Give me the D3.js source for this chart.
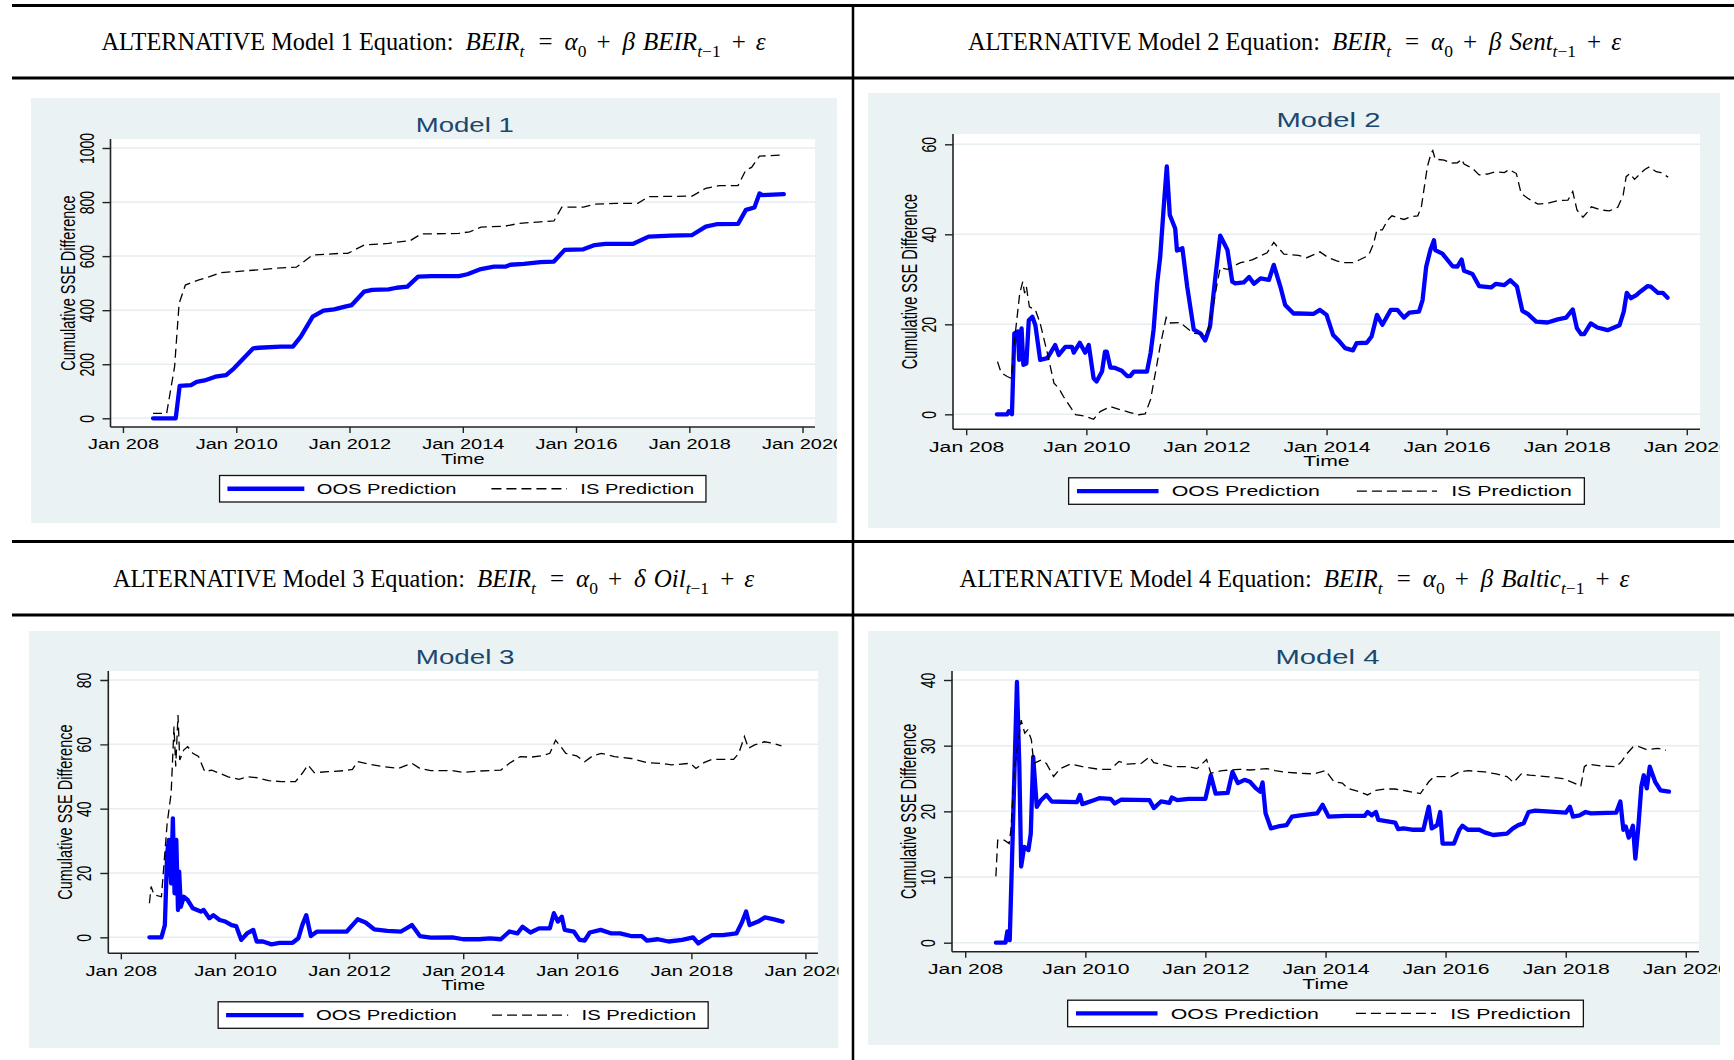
<!DOCTYPE html>
<html>
<head>
<meta charset="utf-8">
<script src="https://cdn.jsdelivr.net/npm/d3@7"></script>
<style>
  html, body { margin: 0; padding: 0; background: #ffffff; }
  svg { display: block; }
  text { white-space: pre; }
</style>
</head>
<body>
<svg id="fig" width="1734" height="1060"></svg>
<script>
// ---------------------------------------------------------------------------
// Data: cumulative SSE difference, [decimal year, value]
// ---------------------------------------------------------------------------
const model1Oos = [[2008.53,0],[2008.93,0],[2009.0,120],[2009.2,123],[2009.3,135],[2009.44,140],[2009.63,154],[2009.82,160],[2009.96,185],[2010.1,216],[2010.3,259],[2010.4,261],[2010.78,265],[2011.0,265],[2011.14,302],[2011.35,376],[2011.54,398],[2011.73,403],[2011.92,413],[2012.04,419],[2012.26,469],[2012.4,475],[2012.69,477],[2012.83,483],[2013.02,487],[2013.21,524],[2013.45,526],[2013.93,526],[2014.08,533],[2014.32,552],[2014.55,561],[2014.75,561],[2014.84,568],[2015.08,571],[2015.37,578],[2015.61,580],[2015.8,623],[2016.13,625],[2016.33,641],[2016.52,645],[2017.0,645],[2017.28,672],[2017.67,676],[2018.05,678],[2018.29,709],[2018.48,718],[2018.86,719],[2019.0,771],[2019.15,780],[2019.24,832],[2019.29,826],[2019.67,829]];
const model1Is = [[2008.53,18],[2008.77,18],[2008.91,191],[2008.99,425],[2009.1,493],[2009.34,512],[2009.53,524],[2009.72,539],[2010.0,543],[2010.49,551],[2010.68,555],[2011.06,559],[2011.35,604],[2011.83,610],[2011.97,610],[2012.26,641],[2012.69,647],[2012.88,653],[2013.07,657],[2013.26,682],[2013.93,684],[2014.12,690],[2014.32,707],[2014.75,711],[2014.99,721],[2015.37,727],[2015.61,730],[2015.75,781],[2016.13,781],[2016.33,792],[2016.71,795],[2017.09,795],[2017.28,820],[2018.05,822],[2018.29,851],[2018.53,861],[2018.86,861],[2019.0,919],[2019.1,928],[2019.24,970],[2019.67,974]];

const model2Oos = [[2008.51,0],[2008.68,0],[2008.71,0.7],[2008.76,0],[2008.8,18],[2008.86,18.4],[2008.88,12.1],[2008.92,19.1],[2008.95,11],[2009.0,11.3],[2009.04,20.9],[2009.1,21.7],[2009.15,19.8],[2009.23,12.1],[2009.35,12.5],[2009.48,15.4],[2009.54,13.2],[2009.65,15],[2009.76,15],[2009.79,13.7],[2009.89,15.9],[2009.98,13.7],[2010.04,15.4],[2010.12,8],[2010.17,7.3],[2010.26,9.5],[2010.31,13.9],[2010.34,13.9],[2010.4,10.4],[2010.48,10.3],[2010.59,9.7],[2010.68,8.5],[2010.73,8.5],[2010.79,9.5],[2011.01,9.5],[2011.07,13.6],[2011.12,18.8],[2011.18,29.1],[2011.23,35],[2011.29,46.2],[2011.34,55.1],[2011.39,44.3],[2011.48,41.3],[2011.51,36.4],[2011.6,36.9],[2011.68,28.4],[2011.79,18.8],[2011.9,18],[2011.98,16.4],[2012.06,19.5],[2012.15,30.6],[2012.23,39.7],[2012.28,38.4],[2012.35,36.5],[2012.43,29.5],[2012.48,29.1],[2012.62,29.3],[2012.71,30.5],[2012.79,29],[2012.9,30.2],[2013.04,29.9],[2013.12,33.2],[2013.23,28.4],[2013.31,24.3],[2013.45,22.4],[2013.53,22.4],[2013.78,22.3],[2013.89,23.2],[2014.0,22.1],[2014.11,17.6],[2014.22,16.1],[2014.31,14.7],[2014.44,14.2],[2014.5,15.8],[2014.67,15.9],[2014.75,17.3],[2014.84,22.1],[2014.93,19.9],[2015.07,23.2],[2015.18,23.2],[2015.29,21.5],[2015.38,22.6],[2015.54,22.8],[2015.6,25.4],[2015.66,32.8],[2015.73,36.5],[2015.79,38.7],[2015.81,36.5],[2015.93,35.7],[2016.1,32.9],[2016.18,32.8],[2016.25,34.4],[2016.29,31.9],[2016.43,31.2],[2016.54,28.5],[2016.74,28.2],[2016.82,29],[2016.96,28.7],[2017.06,29.8],[2017.17,28.4],[2017.26,23],[2017.35,22.3],[2017.49,20.6],[2017.68,20.4],[2017.85,21.1],[2017.99,21.5],[2018.1,23.3],[2018.17,19.1],[2018.24,17.8],[2018.29,17.8],[2018.4,20.2],[2018.51,19.3],[2018.68,18.7],[2018.79,19.3],[2018.88,19.8],[2018.95,22.8],[2019.0,27],[2019.07,25.8],[2019.16,26.5],[2019.23,27.3],[2019.35,28.5],[2019.4,28.4],[2019.52,27],[2019.6,27],[2019.68,25.9]];
const model2Is = [[2008.52,11.7],[2008.58,9.3],[2008.68,8.4],[2008.75,8],[2008.81,17.3],[2008.89,26.9],[2008.94,29.5],[2008.97,26.9],[2009.0,28.4],[2009.05,23.9],[2009.15,23.2],[2009.23,20.2],[2009.35,13.6],[2009.46,6.9],[2009.54,5.8],[2009.62,3.9],[2009.73,1.7],[2009.82,-0.1],[2009.98,-0.4],[2010.12,-1.1],[2010.23,0.6],[2010.4,1.7],[2010.57,1],[2010.73,0.4],[2010.87,-0.1],[2010.98,0.1],[2011.07,3.3],[2011.15,9.2],[2011.23,15.2],[2011.33,21.5],[2011.4,20.3],[2011.56,20.4],[2011.68,19.1],[2011.79,18],[2012.01,17.8],[2012.1,23],[2012.18,29.2],[2012.23,32.6],[2012.35,32.2],[2012.46,33],[2012.57,33.7],[2012.76,34.3],[2012.9,35.2],[2013.01,35.9],[2013.12,38.2],[2013.17,37.4],[2013.29,35.6],[2013.53,35.3],[2013.67,34.8],[2013.81,35.6],[2013.89,36.1],[2014.03,34.8],[2014.17,34.1],[2014.28,33.7],[2014.44,33.7],[2014.56,34.4],[2014.7,35.3],[2014.78,37.8],[2014.84,41],[2014.93,41],[2015.02,43.2],[2015.09,44.1],[2015.18,43.7],[2015.29,43.3],[2015.4,43.9],[2015.52,44.1],[2015.58,46.1],[2015.63,50.6],[2015.68,55],[2015.74,58],[2015.77,58.6],[2015.81,56.7],[2015.96,56.5],[2016.07,55.8],[2016.18,55.9],[2016.25,56.7],[2016.29,55.6],[2016.43,54.7],[2016.54,53.2],[2016.68,53.4],[2016.82,53.9],[2016.96,53.7],[2017.04,54.4],[2017.16,53.5],[2017.24,49.1],[2017.35,48],[2017.52,46.7],[2017.68,46.9],[2017.85,47.5],[2018.02,47.6],[2018.1,49.5],[2018.17,45.4],[2018.27,43.8],[2018.35,45],[2018.41,46.1],[2018.57,45.4],[2018.71,45.2],[2018.85,46],[2018.94,48.7],[2018.99,52.8],[2019.05,53.5],[2019.13,52.2],[2019.19,53],[2019.3,54.4],[2019.38,55],[2019.49,53.9],[2019.57,53.7],[2019.69,52.7]];

const model3Oos = [[2008.5,0],[2008.71,0],[2008.77,3.8],[2008.81,26.1],[2008.84,30.3],[2008.88,16.8],[2008.91,37],[2008.94,13.7],[2008.97,30.3],[2009.0,8.5],[2009.02,20.4],[2009.05,9.5],[2009.1,12.6],[2009.17,11.6],[2009.26,9],[2009.4,8],[2009.45,8.5],[2009.55,5.9],[2009.62,6.9],[2009.73,5.4],[2009.83,4.9],[2009.94,3.8],[2010.02,3.5],[2010.11,-0.8],[2010.21,1.2],[2010.32,2.3],[2010.38,-1.3],[2010.49,-1.3],[2010.64,-2.2],[2010.78,-1.7],[2011.01,-1.7],[2011.11,-0.3],[2011.18,3.8],[2011.25,6.9],[2011.33,0.4],[2011.44,1.8],[2011.58,1.8],[2011.77,1.8],[2011.96,1.8],[2012.15,5.6],[2012.29,4.6],[2012.44,2.5],[2012.67,2],[2012.91,1.8],[2013.1,3.8],[2013.24,0.4],[2013.43,-0.1],[2013.81,0],[2014.0,-0.6],[2014.28,-0.6],[2014.47,-0.3],[2014.66,-0.6],[2014.81,1.8],[2014.95,1.2],[2015.04,3.3],[2015.18,1.5],[2015.33,2.8],[2015.52,2.8],[2015.59,7.5],[2015.66,4.9],[2015.73,6.4],[2015.78,2.3],[2015.94,1.8],[2016.04,-0.8],[2016.13,-1],[2016.22,1.5],[2016.41,2.3],[2016.6,1.2],[2016.75,1.2],[2016.94,0.4],[2017.13,0.4],[2017.22,-1],[2017.41,-0.6],[2017.6,-1.3],[2017.84,-0.8],[2018.03,0],[2018.12,-1.9],[2018.26,-0.3],[2018.36,0.7],[2018.55,0.7],[2018.79,1.2],[2018.88,4.4],[2018.96,8],[2019.02,3.8],[2019.17,4.9],[2019.29,6.2],[2019.45,5.6],[2019.6,4.9]];
const model3Is = [[2008.5,10.6],[2008.53,15.8],[2008.58,13.2],[2008.71,12.6],[2008.81,35.4],[2008.88,44.8],[2008.93,65.5],[2008.96,53.1],[2009.0,69.1],[2009.03,55.1],[2009.1,58.2],[2009.17,59.3],[2009.26,57.2],[2009.36,56.2],[2009.47,51.5],[2009.59,52],[2009.73,51],[2009.88,49.9],[2010.07,49.1],[2010.21,49.9],[2010.4,49.6],[2010.59,48.7],[2010.82,48.4],[2011.06,48.4],[2011.18,51],[2011.28,53.6],[2011.39,51.2],[2011.63,51.5],[2011.91,51.8],[2012.06,52.2],[2012.15,54.6],[2012.34,53.9],[2012.58,53.1],[2012.86,52.5],[2013.1,54.1],[2013.24,52.5],[2013.43,51.8],[2013.81,51.8],[2014.0,51.3],[2014.28,51.7],[2014.66,52],[2014.81,54.1],[2015.0,56.2],[2015.18,56],[2015.37,56.4],[2015.52,57.2],[2015.62,61.3],[2015.71,59.3],[2015.8,57.2],[2015.99,56.4],[2016.13,54.6],[2016.27,56.4],[2016.42,57.2],[2016.65,56.2],[2016.94,55.6],[2017.22,54.3],[2017.46,54.1],[2017.65,53.6],[2017.98,54.1],[2018.08,52.5],[2018.22,54.3],[2018.36,55.3],[2018.74,55.3],[2018.83,57.2],[2018.93,62.4],[2019.0,58.8],[2019.11,59.8],[2019.28,60.8],[2019.44,60.3],[2019.58,59.5]];

const model4Oos = [[2008.51,0],[2008.67,0],[2008.7,1.7],[2008.74,0.4],[2008.79,16.6],[2008.86,39.7],[2008.9,26.8],[2008.93,11.6],[2008.98,14.6],[2009.05,14.1],[2009.09,16.6],[2009.13,28.3],[2009.19,20.7],[2009.26,21.7],[2009.35,22.5],[2009.44,21.5],[2009.86,21.4],[2009.91,22.5],[2009.95,21.1],[2010.14,21.7],[2010.23,22],[2010.42,21.9],[2010.49,21.2],[2010.6,21.8],[2011.07,21.7],[2011.14,20.5],[2011.26,21.5],[2011.4,21.3],[2011.44,22.1],[2011.53,21.7],[2011.72,21.9],[2012.0,21.9],[2012.09,25.5],[2012.17,22.7],[2012.37,22.8],[2012.45,26],[2012.54,24.3],[2012.65,24.8],[2012.74,24.5],[2012.84,23.5],[2012.91,23],[2012.95,24.4],[2013.0,19.7],[2013.09,17.4],[2013.21,17.7],[2013.35,17.9],[2013.44,19.2],[2013.58,19.4],[2013.86,19.7],[2013.95,21],[2014.05,19.2],[2014.33,19.3],[2014.65,19.3],[2014.7,19.9],[2014.77,19.4],[2014.84,19.9],[2014.88,18.7],[2015.16,18.3],[2015.21,17.3],[2015.3,17.4],[2015.44,17.2],[2015.63,17.2],[2015.72,20.7],[2015.77,17.4],[2015.86,17.9],[2015.91,19.9],[2015.95,15.1],[2016.14,15.1],[2016.23,17.2],[2016.28,17.8],[2016.37,17.2],[2016.56,17.2],[2016.65,16.8],[2016.79,16.4],[2017.02,16.6],[2017.12,17.4],[2017.21,17.9],[2017.3,18.2],[2017.38,19.9],[2017.49,20.1],[2018.0,19.8],[2018.07,20.7],[2018.12,19.2],[2018.23,19.4],[2018.33,19.9],[2018.42,19.7],[2018.84,19.8],[2018.91,21.5],[2018.96,17.2],[2019.0,17.7],[2019.05,16],[2019.12,17.8],[2019.16,12.8],[2019.21,17.7],[2019.26,23.8],[2019.3,25.5],[2019.35,23.5],[2019.4,26.8],[2019.49,24.5],[2019.58,23.2],[2019.72,23]];
const model4Is = [[2008.51,10.1],[2008.54,15.6],[2008.65,15.6],[2008.73,15.1],[2008.76,17.2],[2008.82,26.8],[2008.87,29.8],[2008.93,33.9],[2008.99,31.9],[2009.04,32.4],[2009.1,30.9],[2009.14,27.3],[2009.26,27.8],[2009.35,27.3],[2009.47,25.3],[2009.58,26.5],[2009.75,27.2],[2009.95,26.8],[2010.23,26.4],[2010.42,26.4],[2010.56,27.6],[2010.7,27.2],[2010.93,27.3],[2011.07,28.3],[2011.14,27.4],[2011.3,27.1],[2011.44,26.8],[2011.72,26.8],[2011.86,26.5],[2012.02,27.9],[2012.09,25.8],[2012.28,26.2],[2012.56,26.4],[2012.74,26.3],[2013.02,26.5],[2013.16,26.2],[2013.3,26],[2013.58,25.8],[2013.81,25.7],[2014.0,26.2],[2014.14,24.5],[2014.28,24.3],[2014.37,23.5],[2014.56,23],[2014.7,22.5],[2014.84,23.2],[2014.98,23.4],[2015.16,23.4],[2015.35,23.1],[2015.58,22.7],[2015.72,24.5],[2015.81,25.3],[2016.09,25.3],[2016.23,26],[2016.37,26.2],[2016.65,26],[2016.84,25.7],[2017.02,25.3],[2017.13,24.4],[2017.26,25.7],[2017.4,25.5],[2017.67,25.3],[2017.95,25],[2018.14,24.3],[2018.25,23.8],[2018.31,26.8],[2018.37,27.2],[2018.6,26.9],[2018.84,26.8],[2018.93,27.6],[2019.02,28.8],[2019.12,29.8],[2019.21,29.9],[2019.35,29.4],[2019.53,29.6],[2019.67,29.3]];

// Axis ticks
const xTickYears  = [2008, 2010, 2012, 2014, 2016, 2018, 2020];
const xTickLabels = ["Jan 208", "Jan 2010", "Jan 2012", "Jan 2014", "Jan 2016", "Jan 2018", "Jan 2020"];
const yTicks1 = [0, 200, 400, 600, 800, 1000];
const yTicks2 = [0, 20, 40, 60];
const yTicks3 = [0, 20, 40, 60, 80];
const yTicks4 = [0, 10, 20, 30, 40];

// Text
const panelTitles  = ["Model 1", "Model 2", "Model 3", "Model 4"];
const seriesNames  = ["OOS Prediction", "IS Prediction"];
const yAxisTitle   = "Cumulative SSE Difference";
const xAxisTitle   = "Time";
const headerLabels = ["ALTERNATIVE Model 1 Equation:", "ALTERNATIVE Model 2 Equation:",
                      "ALTERNATIVE Model 3 Equation:", "ALTERNATIVE Model 4 Equation:"];
// Equation tokens: [text, style, gap before]
// style: i = italic, n = upright, s = italic subscript, sn = upright subscript
const headerEquations = [
  [["BEIR","i",0],["t","s",0],["=","n",14],["α","i",12],["0","sn",0],["+","n",10],["β","i",12],["BEIR","i",8],["t","s",0],["−1","sn",0],["+","n",11],["ε","i",10]],
  [["BEIR","i",0],["t","s",0],["=","n",14],["α","i",12],["0","sn",0],["+","n",10],["β","i",12],["Sent","i",8],["t","s",0],["−1","sn",0],["+","n",11],["ε","i",10]],
  [["BEIR","i",0],["t","s",0],["=","n",14],["α","i",12],["0","sn",0],["+","n",10],["δ","i",12],["Oil","i",8],["t","s",0],["−1","sn",0],["+","n",11],["ε","i",10]],
  [["BEIR","i",0],["t","s",0],["=","n",14],["α","i",12],["0","sn",0],["+","n",10],["β","i",12],["Baltic","i",8],["t","s",0],["−1","sn",0],["+","n",11],["ε","i",10]]
];

// ---------------------------------------------------------------------------
// Layout
// ---------------------------------------------------------------------------
const SANS  = "'Liberation Sans', Arial, Helvetica, sans-serif";
const SERIF = "'Liberation Serif', 'Times New Roman', serif";
const BG    = "#EAF2F3";
const GRID  = "#E6EEF1";
const NAVY  = "#1A476F";
const OOS_COLOR = "#0000FF";
const NATIVE_W = 511;            // graph plot width before horizontal stretch
const X_DOMAIN = [2007.78, 2020.22];

const panelLayout = [
  { bg: [31, 98, 837, 523],    plot: [110.5, 139, 815, 427],   yDomain: [-32.2, 1033.3] },
  { bg: [868, 93, 1720, 528],  plot: [953, 134, 1700, 429.3],  yDomain: [-3.33, 62.29] },
  { bg: [29, 631, 838.5, 1048], plot: [108.3, 671, 818, 953.3], yDomain: [-4.97, 82.8] },
  { bg: [868, 631, 1720, 1045], plot: [952, 671, 1699, 951.7],  yDomain: [-1.37, 41.37] }
];
const panelSeries = [
  { oos: model1Oos, is: model1Is, yTicks: yTicks1 },
  { oos: model2Oos, is: model2Is, yTicks: yTicks2 },
  { oos: model3Oos, is: model3Is, yTicks: yTicks3 },
  { oos: model4Oos, is: model4Is, yTicks: yTicks4 }
];

// decimal year -> Date
function toDate(t) {
  const y = Math.floor(t);
  const a = new Date(y, 0, 1).getTime(), b = new Date(y + 1, 0, 1).getTime();
  return new Date(a + (t - y) * (b - a));
}

const svg = d3.select("#fig");
const defs = svg.append("defs");

// ---------------------------------------------------------------------------
// Table rules
// ---------------------------------------------------------------------------
const rules = svg.append("g").attr("stroke", "#000");
[5.5, 78, 541.5, 615].forEach(y => {
  rules.append("line").attr("x1", 12).attr("x2", 1734).attr("y1", y).attr("y2", y).attr("stroke-width", 3);
});
rules.append("line").attr("x1", 853).attr("x2", 853).attr("y1", 4).attr("y2", 1060).attr("stroke-width", 2.5);

// ---------------------------------------------------------------------------
// Header rows with equations
// ---------------------------------------------------------------------------
const headerPos = [[433.5, 50], [1294.5, 50], [433.5, 587], [1294.5, 587]];
const SUB_DY = 6.5;
headerLabels.forEach((lab, i) => {
  const t = svg.append("text")
    .attr("x", headerPos[i][0]).attr("y", headerPos[i][1])
    .attr("text-anchor", "middle")
    .attr("font-family", SERIF).attr("font-size", 24.3).attr("fill", "#000");
  t.append("tspan").text(lab);
  let shifted = false;
  headerEquations[i].forEach(([str, st, gap], j) => {
    const sp = t.append("tspan").text(str).attr("font-size", 25);
    sp.attr("dx", j === 0 ? 12 : gap);
    const isSub = st === "s" || st === "sn";
    if (isSub && !shifted) { sp.attr("dy", SUB_DY); shifted = true; }
    if (!isSub && shifted) { sp.attr("dy", -SUB_DY); shifted = false; }
    if (isSub) sp.attr("font-size", 17.5);
    if (st === "i" || st === "s") sp.attr("font-style", "italic");
  });
});

// ---------------------------------------------------------------------------
// Panels
// ---------------------------------------------------------------------------
panelLayout.forEach((lay, k) => {
  const ser = panelSeries[k];
  const [bx0, by0, bx1, by1] = lay.bg;
  const [pl, pt, pr, pb] = lay.plot;
  const sx = (pr - pl) / NATIVE_W;
  const cx = (pl + pr) / 2;

  defs.append("clipPath").attr("id", "clip" + k)
    .append("rect").attr("x", bx0).attr("y", by0).attr("width", bx1 - bx0).attr("height", by1 - by0);

  const g = svg.append("g").attr("clip-path", `url(#clip${k})`);
  g.append("rect").attr("x", bx0).attr("y", by0).attr("width", bx1 - bx0).attr("height", by1 - by0).attr("fill", BG);
  g.append("rect").attr("x", pl).attr("y", pt).attr("width", pr - pl).attr("height", pb - pt).attr("fill", "#fff");

  const x = d3.scaleTime().domain(X_DOMAIN.map(toDate)).range([pl, pr]);
  const y = d3.scaleLinear().domain(lay.yDomain).range([pb, pt]);

  // grid
  g.append("g").selectAll("line").data(ser.yTicks).join("line")
    .attr("x1", pl).attr("x2", pr).attr("y1", d => y(d)).attr("y2", d => y(d))
    .attr("stroke", GRID).attr("stroke-width", 1.5);

  // series
  const line = d3.line().x(d => x(toDate(d[0]))).y(d => y(d[1]));
  g.append("path").datum(ser.oos).attr("d", line)
    .attr("fill", "none").attr("stroke", OOS_COLOR).attr("stroke-width", 4.3)
    .attr("stroke-linejoin", "round").attr("stroke-linecap", "round");
  g.append("path").datum(ser.is).attr("d", line)
    .attr("fill", "none").attr("stroke", "#000").attr("stroke-width", 1.3)
    .attr("stroke-dasharray", "9,5");

  // x axis
  const xAxis = d3.axisBottom(x)
    .tickValues(xTickYears.map(toDate))
    .tickFormat((d, i) => xTickLabels[i])
    .tickSize(6).tickSizeOuter(0);
  const ax = g.append("g").attr("transform", `translate(0,${pb})`).call(xAxis)
    .attr("font-family", SANS).attr("font-size", 14.5);
  ax.select(".domain").remove();
  ax.selectAll(".tick line").attr("stroke", "#222").attr("stroke-width", 1.4);
  ax.selectAll(".tick text").attr("y", 22.3).attr("dy", null)
    .attr("transform", `scale(${sx},1)`).attr("fill", "#000");

  // y axis
  const yAxis = d3.axisLeft(y).tickValues(ser.yTicks).tickFormat(d3.format("d"))
    .tickSize(8).tickSizeOuter(0);
  const ay = g.append("g").attr("transform", `translate(${pl},0)`).call(yAxis)
    .attr("font-family", SANS).attr("font-size", 14);
  ay.select(".domain").remove();
  ay.selectAll(".tick line").attr("stroke", "#222").attr("stroke-width", 1.4);
  ay.selectAll(".tick text").attr("x", null).attr("dy", null)
    .attr("text-anchor", "middle")
    .attr("transform", `translate(-17,0) scale(${sx},1) rotate(-90)`).attr("fill", "#000");

  // axis lines
  g.append("line").attr("x1", pl).attr("x2", pr).attr("y1", pb).attr("y2", pb)
    .attr("stroke", "#222").attr("stroke-width", 1.6);
  g.append("line").attr("x1", pl).attr("x2", pl).attr("y1", pt).attr("y2", pb)
    .attr("stroke", "#222").attr("stroke-width", 1.6);

  // titles
  g.append("text").attr("transform", `translate(${cx + 2},${pt - 6.8}) scale(${sx},1)`)
    .attr("text-anchor", "middle").attr("font-family", SANS).attr("font-size", 20)
    .attr("fill", NAVY).text(panelTitles[k]);
  g.append("text").attr("transform", `translate(${pl - 36},${(pt + pb) / 2}) scale(${sx},1) rotate(-90)`)
    .attr("text-anchor", "middle").attr("font-family", SANS).attr("font-size", 14.5)
    .attr("fill", "#000").text(yAxisTitle);
  g.append("text").attr("transform", `translate(${cx},${pb + 37}) scale(${sx},1)`)
    .attr("text-anchor", "middle").attr("font-family", SANS).attr("font-size", 14.5)
    .attr("fill", "#000").text(xAxisTitle);

  // legend
  const lw = 352.8 * sx, lh = 26.5;
  const lx = cx - lw / 2, ly = pb + 48.5, lmid = ly + lh / 2;
  const lg = g.append("g");
  lg.append("rect").attr("x", lx).attr("y", ly).attr("width", lw).attr("height", lh)
    .attr("fill", "#fff").attr("stroke", "#111").attr("stroke-width", 1.3);
  lg.append("line").attr("x1", lx + 5.7 * sx).attr("x2", lx + 61.5 * sx).attr("y1", lmid).attr("y2", lmid)
    .attr("stroke", OOS_COLOR).attr("stroke-width", 4.3);
  lg.append("line").attr("x1", lx + 197.2 * sx).attr("x2", lx + 252 * sx).attr("y1", lmid).attr("y2", lmid)
    .attr("stroke", "#000").attr("stroke-width", 1.3).attr("stroke-dasharray", "10,5");
  const labelX = [70.5, 261.7], labelW = [101.4, 82.5];
  seriesNames.forEach((nm, i) => {
    lg.append("text").attr("transform", `translate(${lx + labelX[i] * sx},${lmid + 5.2}) scale(${sx},1)`)
      .attr("font-family", SANS).attr("font-size", 14.5).attr("fill", "#000")
      .attr("textLength", labelW[i]).attr("lengthAdjust", "spacingAndGlyphs")
      .text(nm);
  });
});
</script>
</body>
</html>
